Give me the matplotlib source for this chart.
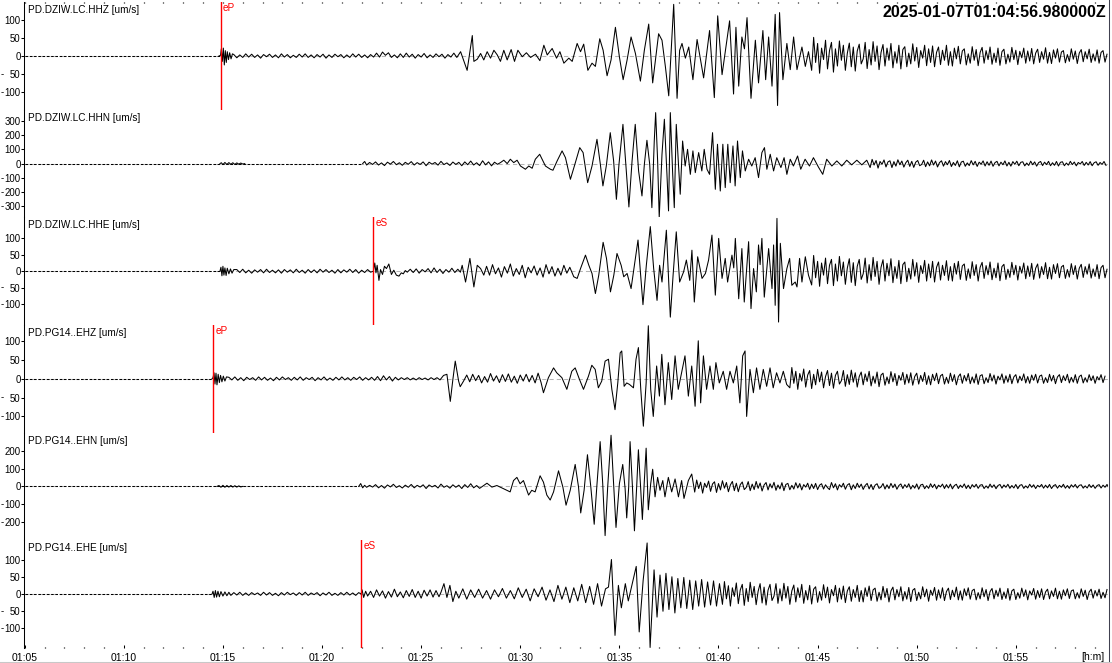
import numpy as np
import matplotlib.pyplot as plt
from matplotlib.lines import Line2D
from matplotlib.transforms import blended_transform_factory

plt.rcParams['font.family'] = ['Liberation Sans', 'DejaVu Sans']

W, H = 1112, 663
NAN = float('nan')
SLOW = 0.15  # sampling of the quiet noise lists (min)
FAST = 0.10  # sampling of the coda lists (min)

# time axis: minutes after 01:00 UTC
T_LEFT, T_RIGHT = 4.99, 59.65
TITLE = '2025-01-07T01:04:56.980000Z'

CHANNELS = ['PD.DZIW.LC.HHZ', 'PD.DZIW.LC.HHN', 'PD.DZIW.LC.HHE',
            'PD.PG14..EHZ', 'PD.PG14..EHN', 'PD.PG14..EHE']
UNITS = '[um/s]'
Y_HALF = [150, 381, 164, 143, 304, 156]
Y_TICKS = [[-100, -50, 0, 50, 100],
           [-300, -200, -100, 0, 100, 200, 300],
           [-100, -50, 0, 50, 100],
           [-100, -50, 0, 50, 100],
           [-200, -100, 0, 100, 200],
           [-100, -50, 0, 50, 100]]
PICK_NAMES = ['eP', None, 'eS', 'eP', None, 'eS']
PICK_TIMES = [14.89, None, 22.59, 14.49, None, 21.97]
QUIET_END = [14.88, 22.0, 14.85, 14.45, 21.85, 14.45]

# ---------------- PD.DZIW.LC.HHZ ----------------
HHZ_PTS = [(14.80, 0), (14.88, 2), (14.92, 20), (14.97, -15), (15.02, 22), (15.07, -25),
           (15.12, 15), (15.17, -18), (15.22, 12), (15.28, -10), (15.34, 9), (15.41, -8),
           (15.48, 6),
           (22.75, 8), (22.9, -3), (23.05, 11), (23.2, 2), (23.35, 9), (23.5, -4), (23.65, 3),
           (26.99, 12), (27.32, -40), (27.58, 57), (27.66, -15), (27.83, -9), (28.0, 7),
           (28.16, -11), (28.33, 12), (28.5, -6), (28.67, 16), (28.84, 3), (29.0, -15),
           (29.17, 16), (29.34, -11), (29.54, 18), (29.71, -15), (29.88, 16), (30.1, -2),
           (30.31, 9), (30.52, -4), (30.77, 5), (30.99, -13), (31.19, 30), (31.36, 3),
           (31.61, 21), (31.83, -6), (32.0, 12), (32.2, -20), (32.45, -6), (32.62, -15),
           (32.87, 35), (33.04, 12), (33.2, 33), (33.41, -40), (33.62, -20), (33.79, -29),
           (34.01, 48), (34.18, 16), (34.38, -55), (34.58, -11), (34.8, 80), (35.0, -2),
           (35.19, -66), (35.39, -11), (35.59, 53), (35.81, 7), (36.06, -70), (36.26, 16),
           (36.48, 89), (36.68, -75), (36.98, 62), (37.15, 44), (37.32, -29), (37.49, -111),
           (37.74, 144), (37.91, -118), (38.04, 16), (38.16, 35), (38.33, -6), (38.5, 25),
           (38.71, -66), (38.92, 46), (39.08, -6), (39.25, -61), (39.55, 71), (39.79, -116),
           (39.96, 112), (40.18, -52), (40.35, 16), (40.56, 98), (40.76, -106), (40.88, 80),
           (41.02, -84), (41.18, 53), (41.31, 20), (41.44, 107), (41.64, -118), (41.86, 44),
           (42.02, -75), (42.24, 71), (42.38, -66), (42.53, 53), (42.7, -84), (42.86, 116),
           (42.98, -138), (43.08, 121), (43.25, -66), (43.45, 35), (43.62, -38), (43.79, 53),
           (43.96, -38), (44.21, 25), (44.38, -29), (44.54, 12)]
HHZ_NOISE1 = [4, -5, 3, -4, 6, -3, 5, -4, 3, -6, 4, -2, 5, -4, 3, -5, 6, -3, 4, -5,
              2, -4, 5, -3, 6, -4, 3, -5, 4, -3, 5, -6, 3, -4, 5, -2, 4, -5, 3, -4,
              6, -3, 5, -4, 3, -5, 4, -3]
HHZ_NOISE2 = [-5, 6, -4, 8, -3, 5, -6, 4, -3, 7, -5, 3, -4, 6, -2, 5, -6, 4, -3, 8, -4]
HHZ_CODA = [-40, 52, -18, 35, -48, 22, -10, 44, -36, 15,
            38, -45, 20, -28, 42, -12, 30, -40, 8, 36,
            -30, 25, -42, 14, 33, -22, -8, 38, -35, 18,
            -25, 40, -15, 28, -38, 10, 32, -28, 22, -12,
            35, -33, 12, -20, 30, -36, 18, 26, -30, 8,
            -22, 34, -14, 24, -32, 15, -6, 30, -27, 20,
            -18, 28, -30, 10, 25, -24, 16, -12, 30, -26,
            12, -28, 22, -8, 27, -22, 14, 20, -25, 6,
            -20, 26, -12, 18, -27, 10, 24, -20, 15, -10,
            25, -23, 8, -18, 22, -26, 12, 19, -22, 5,
            -17, 24, -10, 16, -24, 13, -5, 22, -20, 14,
            -14, 21, -22, 8, 19, -18, 12, -9, 23, -20,
            10, -21, 17, -6, 20, -17, 11, 15, -19, 4,
            -15, 20, -9, 14, -21, 8, 18, -16, 12, -8,
            19, -18, 6, -14, 17, -20, 10, 15, -17, 5]

# ---------------- PD.DZIW.LC.HHN ----------------
HHN_PTS = [(14.85, 0), (14.92, 6), (15.0, -7), (15.1, 8), (15.2, -6), (15.3, 7), (15.4, -5),
           (15.5, 6), (15.6, -6), (15.7, 5), (15.8, -4), (15.9, 4), (16.0, -3), (16.1, 0),
           (16.12, NAN),
           (22.05, 0), (22.15, 15), (22.25, -10),
           (29.0, 7), (29.17, 24), (29.34, 0), (29.5, 31), (29.67, 7), (29.84, 24), (30.01, -17),
           (30.26, -40), (30.43, -17), (30.6, -33), (30.76, 31), (30.98, 66), (31.1, 31),
           (31.27, -17), (31.52, -40), (31.65, -47), (31.86, 19), (32.11, 90), (32.28, 42),
           (32.53, -111), (32.73, -17), (33.0, 113), (33.17, 78), (33.4, -135), (33.62, -17),
           (33.87, 172), (34.04, -5), (34.17, -158), (34.34, -17), (34.54, 219), (34.71, 19),
           (34.85, -253), (34.98, -5), (35.18, 278), (35.35, -52), (35.48, -307), (35.64, 19),
           (35.8, 278), (35.97, -52), (36.14, -229), (36.26, -5), (36.39, 165), (36.53, -5),
           (36.64, -312), (36.76, 160), (36.83, 361), (36.93, 19), (37.01, -380), (37.15, 66),
           (37.27, 314), (37.4, -76), (37.48, -335), (37.57, 361), (37.69, -76), (37.77, -312),
           (37.87, 278), (37.99, -28), (38.07, -217), (38.19, 160), (38.32, -17), (38.44, 101),
           (38.58, -76), (38.71, 90), (38.83, -64), (39.0, 78), (39.16, -52), (39.28, 101),
           (39.42, -40), (39.55, -76), (39.7, 219), (39.84, -182), (39.95, 137), (40.09, -194),
           (40.22, 137), (40.34, -170), (40.47, 137), (40.59, -135), (40.73, 125), (40.84, -158),
           (40.96, 160), (41.1, -99), (41.21, 90), (41.35, -52), (41.52, 31), (41.68, -17),
           (41.85, 42), (42.02, -99), (42.19, 78), (42.32, 113), (42.44, -40), (42.61, 66),
           (42.78, -52), (42.94, 42), (43.15, -28), (43.31, 42), (43.45, -76), (43.62, 31),
           (43.78, -17), (43.99, 54), (44.15, -40), (44.37, 31), (44.59, -17), (44.79, 42),
           (45.04, -24), (45.26, -76), (45.46, 31), (45.72, -17), (45.97, 19), (46.22, -17),
           (46.47, 24), (46.72, -9), (46.98, 24), (47.23, -9), (47.48, 24)]
HHN_NOISE = [8, -6, 12, -10, 5, -14, 10, -4, 15, -8, 6, -12, 9, -5, 14, -10, 7, -6, 12, -15,
             10, -4, 8, -11, 16, -7, 5, -13, 11, -6, 9, -15, 12, -8, 18, -10, 6, -14, 20, -9,
             12, -16, 10, -5]
HHN_CODA = [-28, 30, -10, 22, -32, 15, -5, 26, -24, 12,
            20, -28, 14, -18, 27, -8, 18, -25, 6, 24,
            -20, 16, -27, 10, 22, -15, -6, 24, -22, 12,
            -16, 26, -10, 18, -24, 7, 20, -18, 14, -8,
            22, -21, 8, -13, 20, -23, 11, 17, -19, 5,
            -14, 21, -9, 16, -20, 10, -4, 19, -17, 13,
            -12, 18, -19, 7, 16, -16, 10, -8, 19, -17,
            9, -18, 14, -5, 17, -15, 9, 13, -16, 4,
            -13, 17, -8, 12, -18, 7, 15, -14, 10, -7,
            16, -15, 6, -12, 15, -17, 9, 13, -15, 4,
            -11, 16, -7, 11, -16, 8, -3, 15, -13, 9,
            -10, 14, -15, 6, 13, -12, 8, -6, 15, -13]

# ---------------- PD.DZIW.LC.HHE ----------------
HHE_PTS = [(14.85, 0), (14.9, 12), (14.95, -14), (15.0, 15), (15.05, -12), (15.1, 10),
           (15.16, -13), (15.22, 9), (15.3, -8), (15.38, 7), (15.46, -6), (15.55, 5),
           (22.59, 0), (22.66, 25), (22.72, -5), (22.78, 18), (22.87, -28), (22.95, 5),
           (23.05, -10), (23.15, 15), (23.25, 8), (23.37, 22), (23.5, -10), (23.62, 3),
           (23.75, -12), (23.88, -15), (24.0, -5), (24.1, -8), (24.2, 2), (24.3, -3),
           (24.45, 6), (24.6, -4), (24.75, 7), (24.9, -6), (25.05, 5), (25.2, -2), (25.35, 8),
           (25.5, -5), (25.65, 10), (25.8, -4), (25.95, 6), (26.1, -7), (26.25, 5), (26.4, -3),
           (26.55, 9), (26.7, -4), (26.85, 6), (26.98, -3),
           (27.07, 18), (27.24, -33), (27.46, 39), (27.66, -48), (27.83, 18), (28.0, 8),
           (28.16, -12),
           (32.7, -17), (32.87, -22), (33.04, 8), (33.29, 49), (33.46, 18), (33.62, -7),
           (33.79, -68), (33.96, -12), (34.18, 88), (34.35, 39), (34.55, -63), (34.72, -12),
           (34.88, 54), (35.09, 18), (35.22, -17), (35.39, -7), (35.59, -53), (35.76, 18),
           (35.94, 95), (36.06, -2), (36.19, -102), (36.36, 18), (36.56, 136), (36.73, 8),
           (36.9, -89), (37.03, 18), (37.15, -33), (37.37, 125), (37.57, -140), (37.71, -12),
           (37.87, 120), (38.04, -33), (38.24, -2), (38.38, 34), (38.55, -28), (38.66, 64),
           (38.78, -94), (38.95, 44), (39.17, -22), (39.34, -7), (39.5, 34), (39.67, 110),
           (39.84, -73), (40.01, 100), (40.18, -22), (40.34, 39), (40.46, -33), (40.68, 49),
           (40.77, 10), (40.85, 100), (41.02, -84), (41.18, 69), (41.3, -94), (41.52, 90),
           (41.64, -114), (41.77, 8), (41.91, -63), (42.02, 80), (42.1, 20), (42.19, 100),
           (42.31, -79), (42.53, 69), (42.7, -53), (42.78, 80), (42.86, -104), (42.95, 161),
           (43.03, -155), (43.12, 85), (43.28, -53), (43.45, 8), (43.59, 39), (43.7, -43),
           (43.87, -33), (43.96, -48), (44.09, 39), (44.21, -33), (44.38, 44), (44.54, -12)]
HHE_NOISE1 = [5, -4, 6, -5, 3, -6, 4, -3, 5, -5, 6, -4, 3, -5, 4, -6, 5, -3, 4, -5,
              6, -4, 3, -6, 5, -4, 4, -5, 6, -3, 5, -4, 3, -6, 5, -5, 4, -3, 6, -4,
              5, -6, 3, -4, 5, -3]
HHE_NOISE2 = [15, -12, 20, -8, 10, -18, 14, -6, 22, -15, 8, -10, 18, -20, 12, -5, 16, -12,
              10, -18, 20, -8, 14, -15, 9, -12, 18, -6, 12]
HHE_CODA = [-42, 48, -20, 30, -46, 25, -12, 40, -38, 18,
            36, -44, 22, -30, 45, -14, 28, -40, 10, 38,
            -34, 26, -44, 15, 36, -25, -8, 40, -36, 20,
            -28, 42, -16, 30, -40, 12, 35, -30, 24, -14,
            38, -35, 14, -22, 33, -38, 20, 28, -32, 9,
            -24, 36, -15, 26, -34, 17, -7, 33, -30, 22,
            -20, 30, -33, 12, 28, -27, 18, -13, 32, -28,
            14, -30, 24, -9, 30, -25, 16, 22, -28, 7,
            -22, 29, -13, 20, -30, 12, 27, -22, 17, -11,
            28, -26, 9, -20, 25, -29, 14, 21, -25, 6,
            -19, 27, -11, 18, -27, 15, -6, 25, -23, 16,
            -16, 24, -25, 9, 22, -21, 14, -10, 26, -23,
            12, -24, 20, -7, 23, -20, 13, 18, -22, 5,
            -18, 23, -10, 17, -24, 9, 21, -19, 14, -9,
            22, -21, 7, -16, 20, -23, 11, 18, -20, 6]

# ---------------- PD.PG14..EHZ ----------------
EHZ_PTS = [(14.45, 0), (14.5, 3), (14.55, 16), (14.6, -14), (14.65, 15), (14.7, -16),
           (14.76, 12), (14.82, -10), (14.88, 9), (14.95, -8), (15.02, 7), (15.1, -6),
           (15.18, 5),
           (22.8, 6), (22.95, -5), (23.1, 8), (23.25, -3), (23.4, 6), (23.55, -6), (23.7, 4),
           (23.85, -3),
           (26.13, 9), (26.3, 12), (26.47, -60), (26.6, -2), (26.72, 47), (26.89, -6),
           (26.97, -21), (27.14, -6),
           (31.17, -37), (31.42, 3), (31.68, 29), (31.84, 16), (32.1, 3), (32.35, -28),
           (32.6, 20), (32.77, 29), (32.99, -2), (33.19, -28), (33.44, 7), (33.61, 36),
           (33.78, 25), (33.94, -24), (34.11, -6), (34.28, 47), (34.45, 52), (34.62, -28),
           (34.78, -82), (34.92, -11), (35.04, 69), (35.12, 74), (35.24, -20), (35.37, -11),
           (35.51, -15), (35.71, -24), (35.84, 52), (35.96, 83), (36.08, -28), (36.21, -126),
           (36.35, -11), (36.46, 141), (36.58, -28), (36.71, -100), (36.88, 34), (37.02, -46),
           (37.14, 65), (37.3, -69), (37.47, 43), (37.64, -55), (37.81, 61), (37.97, -28),
           (38.14, 16), (38.31, 61), (38.48, -46), (38.65, 34), (38.82, -73), (38.98, 101),
           (39.1, -64), (39.24, 61), (39.4, -28), (39.57, 34), (39.74, -28), (39.87, 43),
           (40.04, -11), (40.24, 20), (40.41, -28), (40.58, 20), (40.75, -11), (40.92, 34),
           (41.08, -64), (41.22, 61), (41.34, 74), (41.42, -100), (41.59, 25), (41.76, -37),
           (41.92, 29), (42.09, -28), (42.26, 25), (42.43, -20), (42.6, 29), (42.76, -24),
           (42.93, 16), (43.1, -11), (43.27, 20), (43.44, -15)]
EHZ_NOISE1 = [4, -3, 5, -4, 3, -5, 4, -2, 3, -4, 5, -3, 4, -4, 2, -5, 4, -3, 5, -2,
              3, -4, 4, -3, 5, -4, 3, -2, 4, -5, 3, -3, 5, -4, 2, -4, 4, -3, 5, -3,
              3, -4, 4, -2, 5, -4, 3, -3, 4, -4]
EHZ_NOISE2 = [3, -2, 3, -3, 2, -3, 3, -2, 2, -3, 3, -2, 3, -3]
EHZ_NOISE3 = [10, -8, 12, -5, 9, -11, 6, -9, 14, -6, 8, -10, 11, -7, 13, -9, 7, -12, 10, -6,
              12, -8, 9, -11, 15, -10]
EHZ_CODA = [-24, 30, -12, 20, -28, 14, -6, 26, -22, 10,
            22, -26, 12, -16, 25, -8, 18, -24, 6, 22,
            -18, 15, -25, 9, 20, -14, -5, 22, -20, 11,
            -15, 23, -9, 16, -22, 6, 18, -16, 13, -7,
            20, -19, 7, -12, 18, -21, 10, 15, -17, 5,
            -13, 19, -8, 14, -18, 9, -4, 17, -15, 12,
            -11, 16, -17, 6, 15, -14, 9, -7, 17, -15,
            8, -16, 12, -5, 15, -13, 8, 12, -14, 4,
            -12, 15, -7, 11, -16, 6, 13, -12, 9, -6,
            14, -13, 5, -11, 13, -15, 8, 11, -13, 3,
            -10, 14, -6, 10, -14, 7, -3, 13, -12, 8,
            -9, 12, -13, 5, 11, -11, 7, -5, 13, -11,
            6, -12, 10, -4, 12, -11, 7, 10, -12, 3,
            -10, 12, -6, 9, -13, 5, 11, -10, 8, -5,
            12, -11, 4, -9, 11, -12, 6, 10, -11, 3,
            -9, 11, -5, 8, -12, 6, -3, 11, -10, 7]

# ---------------- PD.PG14..EHN ----------------
EHN_PTS = [(14.7, 0), (14.8, 5), (14.9, -5), (15.0, 6), (15.1, -5), (15.2, 5), (15.3, -4),
           (15.4, 5), (15.5, -4), (15.6, 4), (15.7, -4), (15.8, 3), (15.9, -3), (16.0, 0),
           (16.02, NAN),
           (21.85, 0), (21.95, 16), (22.05, -8), (22.15, 6), (22.25, -5),
           (28.32, 18), (28.57, -4), (28.82, 5), (29.16, -13), (29.49, -31), (29.66, 33),
           (29.83, 51), (29.99, 15), (30.16, 33), (30.42, -49), (30.58, -22), (30.75, -31),
           (31.0, 60), (31.17, 24), (31.34, -49), (31.51, -77), (31.68, -31), (31.93, 88),
           (32.15, -4), (32.31, -106), (32.52, -22), (32.77, 124), (32.94, -4), (33.05, -150),
           (33.22, -22), (33.39, 179), (33.56, -4), (33.73, -214), (33.86, -4), (34.03, 253),
           (34.16, 15), (34.28, -278), (34.41, -4), (34.58, 289), (34.7, 33), (34.83, -232),
           (35.0, 15), (35.17, 124), (35.29, -13), (35.37, -178), (35.47, -4), (35.54, 253),
           (35.66, -4), (35.76, -251), (35.88, 15), (35.96, 207), (36.08, -22), (36.16, -187),
           (36.26, 33), (36.35, 216), (36.46, -132), (36.58, 15), (36.68, 97), (36.8, -59),
           (36.93, 51), (37.05, -22), (37.19, 33), (37.3, -59), (37.47, 51), (37.64, -31),
           (37.81, 42), (37.98, -59), (38.14, 33), (38.26, -68), (38.48, 33), (38.65, 70)]
EHN_NOISE = [6, -4, 10, -8, 5, -10, 8, -3, 12, -6, 4, -9, 7, -5, 11, -8, 6, -4, 9, -12,
             8, -3, 6, -9, 13, -5, 4, -10, 9, -5, 7, -12, 10, -6, 15, -8, 5, -11]
EHN_NOISE2 = [-32, 36, -12, 24, -38, 18, -6, 30, -28, 14,
              26, -34, 16, -20, 32, -10, 22, -30, 8, 28,
              -24, 18, -30, 10, 25, -18, -6, 27, -24, 13,
              -18, 28, -11, 19, -26, 8, 22, -20, 15, -9,
              23, -22, 8, -14, 21, -24, 11, 17, -19, 6,
              -15, 21, -9, 16, -20, 10, -4, 18, -17, 13,
              -12, 17, -18, 7, 15, -15, 9, -7]
EHN_CODA = [-18, 22, -8, 15, -20, 10, -4, 18, -16, 8,
            16, -19, 9, -12, 18, -6, 13, -17, 5, 17,
            -14, 11, -18, 7, 15, -11, -4, 16, -15, 9,
            -12, 17, -7, 13, -16, 5, 14, -12, 10, -6,
            15, -15, 6, -10, 14, -16, 8, 12, -13, 4,
            -11, 15, -6, 12, -14, 7, -3, 13, -12, 10,
            -9, 13, -14, 5, 12, -12, 7, -6, 14, -12,
            7, -13, 10, -4, 12, -11, 7, 10, -12, 3,
            -10, 13, -6, 9, -13, 5, 11, -10, 8, -5,
            12, -11, 5, -9, 11, -13, 6, 10, -11, 3,
            -9, 12, -5, 9, -12, 6, -3, 11, -10, 7,
            -8, 11, -12, 4, 10, -10, 6, -5, 12, -10,
            5, -11, 9, -4, 11, -9, 6, 9, -10, 3,
            -9, 11, -6, 8, -11, 5, 10, -9, 7, -5,
            11, -10, 4]

# ---------------- PD.PG14..EHE ----------------
EHE_PTS = [(14.45, 0), (14.5, 8), (14.56, -10), (14.62, 10), (14.68, -9), (14.75, 8),
           (14.82, -8), (14.9, 7), (15.0, -6), (15.1, 6), (15.2, -5), (15.3, 5), (15.4, -4),
           (21.97, 0), (22.02, 12), (22.1, -10), (22.2, 8), (22.3, -6),
           (26.0, 5), (26.15, 30), (26.3, -10), (26.45, 25), (26.6, -22), (26.75, 8),
           (26.9, -12), (27.1, 15), (27.3, -15), (27.5, 12), (27.7, -10), (27.9, 14),
           (28.1, -12), (28.3, 10), (28.5, -15), (28.7, 12), (28.9, -8), (29.1, 16),
           (29.3, -12), (29.5, 10), (29.7, -14), (29.9, 18), (30.1, -10), (30.3, 14),
           (30.5, -20), (30.7, 15), (30.9, -8), (31.1, 20), (31.3, -18), (31.5, 12),
           (31.7, -22), (31.9, 25), (32.1, -15), (32.3, 20), (32.5, -25), (32.7, 18),
           (32.9, -20), (33.1, 28), (33.3, -25), (33.5, 22), (33.7, -30), (33.9, 30),
           (34.1, -35), (34.3, 15), (34.45, 20), (34.6, 100), (34.78, -120), (34.95, 25),
           (35.1, -40), (35.3, 30), (35.45, -20), (35.85, 80), (36.0, -110), (36.2, 40),
           (36.4, 148), (36.55, -155), (36.75, 70), (36.9, -67), (37.05, 55), (37.2, -50),
           (37.35, 60), (37.5, -45), (37.65, 50), (37.8, -55), (37.95, 45), (38.1, -40),
           (38.25, 48), (38.4, -42), (38.55, 40), (38.7, -45), (38.85, 38), (39.0, -35),
           (39.15, 42), (39.3, -38), (39.45, 35), (39.6, -32), (39.75, 38), (39.9, -35),
           (40.05, 30)]
EHE_NOISE1 = [4, -3, 5, -4, 3, -4, 4, -2, 3, -4, 5, -3, 4, -4, 2, -5, 4, -3, 5, -2,
              3, -4, 4, -3, 5, -4, 3, -2, 4, -5, 3, -3, 5, -4, 2, -4, 4, -3, 5, -3,
              3, -4, 4]
EHE_NOISE2 = [8, -10, 12, -6, 9, -12, 7, -9, 14, -8, 6, -11, 10, -7, 13, -10, 8, -12, 11, -6,
              12, -9, 10, -8]
EHE_CODA = [-30, 36, -14, 24, -35, 18, -7, 32, -28, 12,
            28, -33, 16, -22, 34, -10, 22, -31, 8, 30,
            -26, 20, -32, 11, 28, -19, -6, 30, -27, 15,
            -20, 31, -12, 22, -30, 9, 26, -23, 18, -10,
            28, -27, 10, -17, 25, -29, 14, 21, -24, 7,
            -18, 27, -11, 20, -26, 13, -5, 25, -23, 17,
            -15, 23, -25, 9, 21, -21, 13, -10, 25, -22,
            10, -23, 18, -7, 23, -19, 12, 17, -21, 5,
            -17, 22, -10, 16, -23, 9, 20, -17, 13, -8,
            21, -20, 7, -15, 19, -22, 11, 16, -19, 5,
            -14, 21, -8, 14, -21, 11, -4, 19, -18, 12,
            -12, 18, -19, 7, 17, -16, 11, -8, 20, -17,
            9, -18, 15, -5, 18, -15, 10, 14, -17, 4,
            -14, 18, -8, 13, -19, 7, 16, -14, 11, -7,
            17, -16, 6, -13, 16, -18, 9, 14, -16, 4,
            -12, 17, -7, 12, -17, 9, -3, 16, -15, 10,
            -10, 15, -16, 6, 14, -14, 9, -7, 17, -14,
            8, -15, 12, -5, 15, -13, 9, 12, -14, 4,
            -12, 15, -7, 11, -16, 6, 14, -12, 10, -6,
            14, -13, 5, -11, 13]

# (start time, sampling interval, values) for each sampled stretch
TRACES = [
    (HHZ_PTS, [(15.55, SLOW, HHZ_NOISE1), (23.8, SLOW, HHZ_NOISE2), (44.7, FAST, HHZ_CODA)]),
    (HHN_PTS, [(22.4, SLOW, HHN_NOISE), (47.65, FAST, HHN_CODA)]),
    (HHE_PTS, [(15.7, SLOW, HHE_NOISE1), (28.3, SLOW, HHE_NOISE2), (44.7, FAST, HHE_CODA)]),
    (EHZ_PTS, [(15.3, SLOW, EHZ_NOISE1), (24.0, SLOW, EHZ_NOISE2), (27.3, SLOW, EHZ_NOISE3),
               (43.6, FAST, EHZ_CODA)]),
    (EHN_PTS, [(22.4, SLOW, EHN_NOISE), (38.8, FAST, EHN_NOISE2), (45.6, FAST, EHN_CODA)]),
    (EHE_PTS, [(15.55, SLOW, EHE_NOISE1), (22.45, SLOW, EHE_NOISE2), (40.2, FAST, EHE_CODA)]),
]


def build(pts, pieces):
    t = [p[0] for p in pts]
    a = [p[1] for p in pts]
    for t0, dt, vals in pieces:
        t += [t0 + dt * i for i in range(len(vals))]
        a += list(vals)
    t = np.array(t, float)
    a = np.array(a, float)
    order = np.argsort(t, kind='stable')
    return t[order], a[order]


def main():
    fig = plt.figure(figsize=(W / 100, H / 100), dpi=100)
    x0, x1 = 24.5, 1108.0
    top0, ph = 2.2, 107.6

    for k in range(6):
        top = top0 + ph * k
        ax = fig.add_axes([x0 / W, 1 - (top + ph) / H, (x1 - x0) / W, ph / H])
        ax.set_xlim(T_LEFT, T_RIGHT)
        ax.set_ylim(-Y_HALF[k], Y_HALF[k])
        for s in ['top', 'right', 'bottom']:
            ax.spines[s].set_visible(False)
        ax.spines['left'].set_linewidth(0.75)
        ax.patch.set_visible(False)

        # zero line
        ax.axhline(0, color='#b4b4b4', lw=0.75, ls=(0, (4, 3)), zorder=1)
        ax.plot([T_LEFT, QUIET_END[k]], [0, 0], color='black', lw=0.75,
                ls=(0, (2.5, 1.6)), zorder=2)

        t, a = build(*TRACES[k])
        ax.plot(t, a, color='black', lw=0.75, zorder=3)

        if PICK_NAMES[k]:
            ax.axvline(PICK_TIMES[k], color='red', lw=1.0, zorder=4)
            ax.text(PICK_TIMES[k] + 0.12, Y_HALF[k] * 0.985, PICK_NAMES[k], color='red',
                    fontsize=7.2, va='top', ha='left', zorder=5)

        ax.text(3.5 / (x1 - x0), 1 - 3.0 / ph, f'{CHANNELS[k]} {UNITS}',
                transform=ax.transAxes, fontsize=7.2, va='top', ha='left', zorder=5)

        ax.set_yticks(Y_TICKS[k])
        ax.set_yticklabels([str(abs(v)) for v in Y_TICKS[k]])
        ax.tick_params(axis='y', direction='out', length=2.2, width=0.75, pad=0.6,
                       labelsize=6.9)
        trans = blended_transform_factory(fig.transFigure, ax.transData)
        for v in Y_TICKS[k]:
            if v < 0:
                ax.text(0.3 / W, v, '-', transform=trans, ha='left', va='center',
                        fontsize=6.9, clip_on=False)

        ax.set_xticks(np.arange(5, 60, 5))
        ax.set_xticks(np.arange(5, 60, 1), minor=True)
        if k == 5:
            ax.set_xticklabels([f'01:{m:02d}' for m in range(5, 60, 5)])
            ax.tick_params(axis='x', which='major', direction='in', length=2.5, width=0.75,
                           pad=3.5, labelsize=7.5, bottom=True, top=False)
            ax.tick_params(axis='x', which='minor', direction='in', length=0.8, width=0.9,
                           bottom=True, top=False)
        elif k == 0:
            ax.tick_params(axis='x', which='both', direction='in', length=0.8, width=0.9,
                           bottom=False, top=True, labelbottom=False, labeltop=False)
        else:
            ax.tick_params(axis='x', which='both', bottom=False, top=False,
                           labelbottom=False)

    fig.text(1106 / W, 1 - 12.5 / H, TITLE, ha='right', va='center', fontsize=11.5,
             fontweight='bold')
    fig.text(1105 / W, 1 - 657 / H, '[h:m]', ha='right', va='center', fontsize=7.5)

    # window frame lines
    fig.add_artist(Line2D([1108.5 / W, 1108.5 / W], [1 - 661.5 / H, 1], color='#404050',
                          lw=0.75))
    fig.add_artist(Line2D([0, 1], [1 - 661.5 / H, 1 - 661.5 / H], color='#c8c8c8', lw=0.75))

    fig.savefig('out.png', dpi=100, facecolor='white')


if __name__ == '__main__':
    main()
